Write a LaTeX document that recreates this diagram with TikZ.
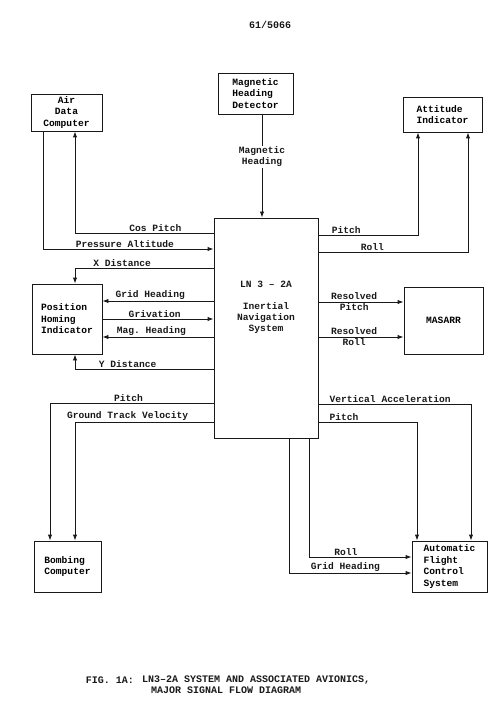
\documentclass[tikz,border=0pt]{standalone}
\usepackage{fontspec}
\setmonofont{Liberation Mono}
\usetikzlibrary{arrows.meta,positioning}

\begin{document}
\begin{tikzpicture}[x=1pt, y=-1pt,
  blockbox/.style={draw=black!90, line width=0.9pt, inner sep=0pt, align=left, font=\ttfamily\bfseries\fontsize{9.6}{11.5}\selectfont},
  sigline/.style={draw=black!90, line width=0.9pt, -{Latex[length=6pt,width=4.4pt]}},
  siglabel/.style={font=\ttfamily\bfseries\fontsize{9.6}{11}\selectfont, inner sep=1pt, text=black!90, align=center},
  captext/.style={font=\ttfamily\bfseries\fontsize{10}{10}\selectfont, inner sep=0pt, text=black!90, anchor=west},
]
\useasboundingbox (0,0) rectangle (500,719);

% Page number
\node[captext, anchor=center] (pgno) at (270,25) {61/5066};

% Blocks
\node[blockbox, align=center, minimum width=71pt, minimum height=37pt] (adc) at (66.5,112.5) {Air\\Data\\Computer};
\node[blockbox, minimum width=75pt, minimum height=41pt] (mhd) at (255.5,93.5) {Magnetic\\Heading\\Detector};
\node[blockbox, minimum width=79pt, minimum height=35pt] (ai) at (442.5,114.5) {Attitude\\Indicator};
\node[blockbox, minimum width=104pt, minimum height=220pt] (ins) at (266,328) {};
\node[siglabel] (insTxt) at (266,307) {LN 3 \textendash{} 2A\\[11pt]Inertial\\Navigation\\System};
\node[blockbox, minimum width=70pt, minimum height=70pt] (phi) at (67,319) {Position\\Homing\\Indicator};
\node[blockbox, minimum width=79pt, minimum height=67pt] (masarr) at (443.5,320.5) {MASARR};
\node[blockbox, minimum width=67pt, minimum height=51pt] (bc) at (67.5,566.5) {Bombing\\Computer};
\node[blockbox, minimum width=75pt, minimum height=51pt] (afcs) at (449.5,566.5) {Automatic\\Flight\\Control\\System};

% Magnetic heading detector
\draw[sigline] ([xshift=6.5pt]mhd.south) -- ([xshift=6.5pt]mhd.south |- ins.north)
  node[siglabel, fill=white, pos=.41] (lMagHdg) {Magnetic\\Heading};

% Air data computer
\draw[sigline] (ins.west |- 0,233) -| ([xshift=8.5pt]adc.south)
  node[siglabel, above, pos=.21] (lCosPitch) {Cos Pitch};
\draw[sigline] ([xshift=-23.5pt]adc.south) |- (ins.west |- 0,249)
  node[siglabel, above, pos=.74] (lPressAlt) {Pressure Altitude};

% Attitude indicator
\draw[sigline] (ins.east |- 0,235) -| ([xshift=-24.5pt]ai.south)
  node[siglabel, above, pos=.14] (lPitchAI) {Pitch};
\draw[sigline] (ins.east |- 0,252) -| ([xshift=25.5pt]ai.south)
  node[siglabel, above, pos=.18] (lRollAI) {Roll};

% Position homing indicator
\draw[sigline] (ins.west |- 0,268) -| ([xshift=8pt]phi.north)
  node[siglabel, above, pos=.33] (lXDist) {X Distance};
\draw[sigline] (ins.west |- 0,301) -- (phi.east |- 0,301)
  node[siglabel, above, pos=.57] (lGridPHI) {Grid Heading};
\draw[sigline] (phi.east |- 0,319) -- (ins.west |- 0,319)
  node[siglabel, above, pos=.47] (lGriv) {Grivation};
\draw[sigline] (ins.west |- 0,337) -- (phi.east |- 0,337)
  node[siglabel, above, pos=.56] (lMagPHI) {Mag. Heading};
\draw[sigline] (ins.west |- 0,369) -| ([xshift=8pt]phi.south)
  node[siglabel, above, pos=.31] (lYDist) {Y Distance};

% MASARR
\draw[sigline] (ins.east |- 0,302) -- (masarr.west |- 0,302)
  node[siglabel, pos=.42] (lResPitch) {Resolved\\Pitch};
\draw[sigline] (ins.east |- 0,337) -- (masarr.west |- 0,337)
  node[siglabel, pos=.42] (lResRoll) {Resolved\\Roll};

% Bombing computer
\draw[sigline] (ins.west |- 0,403) -| ([xshift=-17.5pt]bc.north)
  node[siglabel, above, pos=.26] (lPitchBC) {Pitch};
\draw[sigline] (ins.west |- 0,422) -| ([xshift=7.5pt]bc.north)
  node[siglabel, above, pos=.31] (lGTV) {Ground Track Velocity};

% Automatic flight control system
\draw[sigline] (ins.east |- 0,404) -| ([xshift=21.5pt]afcs.north)
  node[siglabel, above, pos=.235] (lVertAcc) {Vertical Acceleration};
\draw[sigline] (ins.east |- 0,422) -| ([xshift=-32.5pt]afcs.north)
  node[siglabel, above, pos=.13] (lPitchAF) {Pitch};
\draw[sigline] ([xshift=43pt]ins.south) |- (afcs.west |- 0,557)
  node[siglabel, above, pos=.68] (lRollAF) {Roll};
\draw[sigline] ([xshift=23pt]ins.south) |- (afcs.west |- 0,573)
  node[siglabel, above, pos=.73] (lGridAF) {Grid Heading};

% Caption
\node[captext, anchor=east] (cap1) at (134,680) {FIG. 1A:};
\node[captext] (cap2) at (142,680) {LN3\textendash 2A SYSTEM AND ASSOCIATED AVIONICS,};
\node[captext] (cap3) at (151,690) {MAJOR SIGNAL FLOW DIAGRAM};
\end{tikzpicture}
\end{document}
